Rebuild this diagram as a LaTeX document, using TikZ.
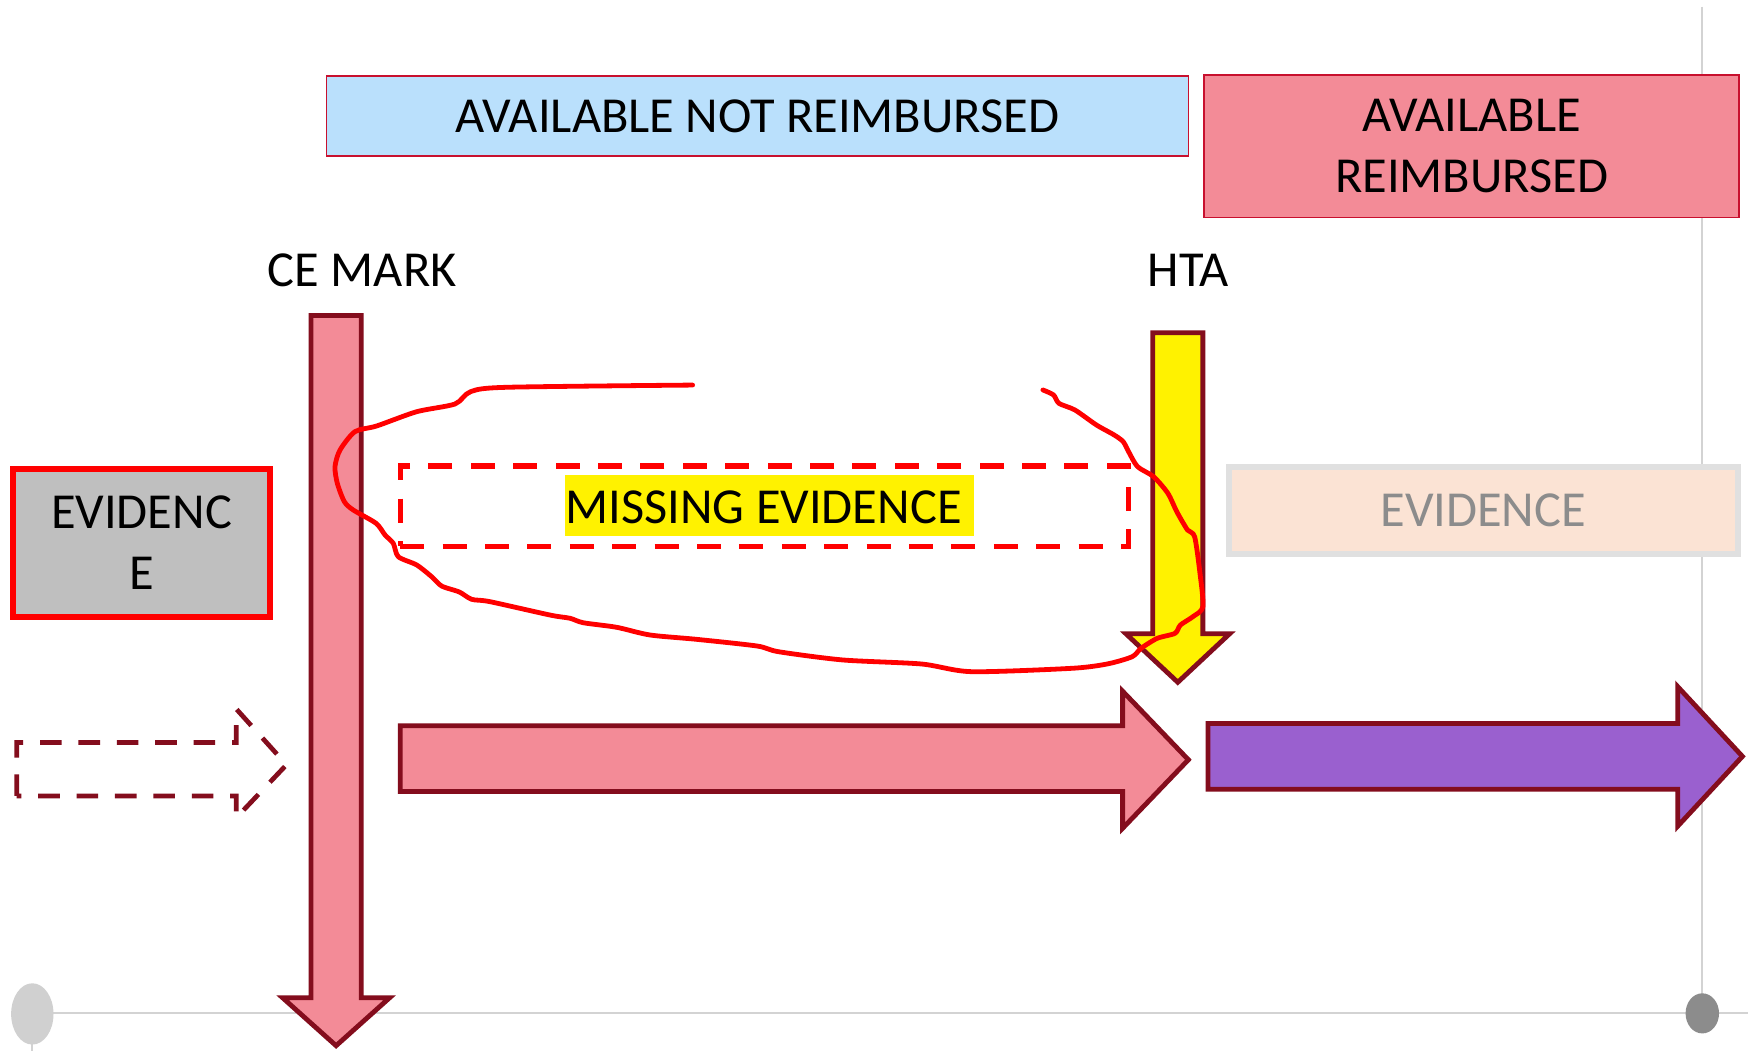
\documentclass[tikz,border=0pt]{standalone}
\usepackage{fontspec}
\setmainfont{Carlito}
\usetikzlibrary{shapes.geometric}
\definecolor{arrowred}{HTML}{840D1D}
\definecolor{pinkfill}{HTML}{F38B97}
\definecolor{bluefill}{HTML}{BAE0FC}
\definecolor{topline}{HTML}{C8102E}
\definecolor{greyfill}{HTML}{BFBFBF}
\definecolor{peachfill}{HTML}{FBE3D4}
\definecolor{peachline}{HTML}{E0E0E0}
\definecolor{peachtext}{HTML}{8C8C8C}
\definecolor{purplefill}{HTML}{9A60CF}
\definecolor{axisgrey}{HTML}{D3D3D3}
\definecolor{dotlight}{HTML}{D0D0D0}
\definecolor{dotdark}{HTML}{8C8C8C}
\begin{document}
\begin{tikzpicture}[x=0.5574pt,y=-0.5574pt,
  txt/.style={font=\fontsize{25.2}{30.4}\selectfont, inner sep=0pt},
  topbox/.style={draw=topline, line width=0.8pt, inner sep=0pt, txt, align=center},
  bigarrow/.style={draw=arrowred, line width=2.4pt, line join=miter, miter limit=10},
  dasharrow/.style={draw=arrowred, line width=2.35pt, dash pattern=on 10.8pt off 8.4pt, line join=miter},
  dashbox/.style={draw=red, line width=2.6pt, dash pattern=on 12pt off 9.2pt, inner sep=0pt},
  freehand/.style={draw=red, line width=2.4pt, line cap=round, line join=round},
  axis/.style={draw=axisgrey, line width=1pt}]
\useasboundingbox (0,0) rectangle (1568,943);
\fill[white] (0,0) rectangle (1568,943);

% timeline
\coordinate (axl) at (29,909);
\coordinate (axr) at (1568,909);
\coordinate (vtop) at (1527,6);
\coordinate (vbot) at (1527,909);
\coordinate (lbot) at (29,943);
\draw[axis] (axl) -- (axr);
\draw[axis] (vtop) -- (vbot);
\draw[axis] (axl) -- (lbot);
\node[ellipse, fill=dotlight, minimum width=38*0.5574pt, minimum height=55*0.5574pt, inner sep=0pt] (startdot) at (29,909.5) {};
\node[ellipse, fill=dotdark, minimum width=30*0.5574pt, minimum height=36*0.5574pt, inner sep=0pt] (enddot) at (1527,909) {};

% top boxes
\node[topbox, fill=bluefill, minimum width=430.87pt, minimum height=40.13pt] (notreimb) at (679.5,104) {AVAILABLE NOT REIMBURSED};
\node[topbox, fill=pinkfill, minimum width=267.55pt, minimum height=71.18pt] (reimb) at (1320,131.2) {AVAILABLE\\REIMBURSED};

% milestone labels
\node[txt, anchor=base] (ce) at (325,257.2) {CE MARK};
\node[txt, anchor=base] (hta) at (1066,257.2) {HTA};

% evidence boxes
\node[txt, draw=red, line width=3pt, fill=greyfill, align=center, minimum width=128.2pt, minimum height=73.74pt] (evleft) at (127,487) {EVIDENC\\E};
\node[txt, draw=peachline, line width=3pt, fill=peachfill, text=peachtext, minimum width=254.73pt, minimum height=43.48pt] (evright) at (1330.5,457.5) {EVIDENCE};

% arrows
\draw[bigarrow, fill=pinkfill] (279,283) -- (324,283) -- (324,895) -- (349.5,895) -- (301.5,938) -- (253.5,895) -- (279,895) -- cycle;
\draw[bigarrow, fill=yellow] (1034,298.5) -- (1079,298.5) -- (1079,568.5) -- (1103,568.5) -- (1056.5,612) -- (1010,568.5) -- (1034,568.5) -- cycle;
\draw[bigarrow, fill=pinkfill] (359,651) -- (1007,651) -- (1007,620) -- (1066,681.5) -- (1007,743) -- (1007,710) -- (359,710) -- cycle;
\draw[bigarrow, fill=purplefill] (1083.5,649) -- (1505,649) -- (1505,616) -- (1563,678.5) -- (1505,741) -- (1505,708) -- (1083.5,708) -- cycle;
\draw[dasharrow] (15,714) -- (15,666) -- (212,666) -- (212,636) -- (257,686) -- (212,733.5) -- (212,714) -- cycle;

% missing evidence
\node[dashbox, minimum width=363.98pt, minimum height=40.13pt] (missbox) at (685.5,454) {};
\node[fill=yellow, inner sep=0pt, minimum width=204.57pt, minimum height=30.66pt] (hl) at (690.5,453.5) {};
\node[txt] (missing) at (685,455.3) {MISSING EVIDENCE};

% freehand loop
\draw[freehand] plot[smooth, tension=0.45] coordinates {
(621.3,345.4) (454.5,347.4) (422.2,351.3) (408.1,362.4) (373.8,369.3) (337.9,382.1) (318.4,387.2) (305,403.7) (300.5,418.6) (302.6,433.6) (308.9,450) (316.9,457.5) (337.3,469.4) (345.4,479.9) (352.8,487.4) (357.3,499.4) (373.8,506.8) (387.2,517.3) (396.2,525.7) (412,531) (423.1,537.6) (439.5,539.7) (493.4,551.7) (511.3,554.6) (523.2,558.6) (553.2,562.7) (583.1,569.6) (625,573.5) (679.2,579.5) (698.4,584.6) (756.1,592) (826.5,595.6) (871.4,602.5) (961.1,599.5) (993.1,595.6) (1015.5,589.1) (1023.6,581.5) (1038,572.6) (1054,568.1) (1058.8,560.7) (1070,553.2) (1079,544.2) (1076.4,514.3) (1071.6,481.4) (1065.2,475.4) (1055.6,459) (1047.6,442.5) (1034.8,427.6) (1020.4,418.6) (1012.4,405.2) (1007.5,396.2) (999.5,390.2) (983.5,381.2) (964.3,367.8) (949.9,361.8) (945.1,354.3) (935.5,349.8)};
\end{tikzpicture}
\end{document}
